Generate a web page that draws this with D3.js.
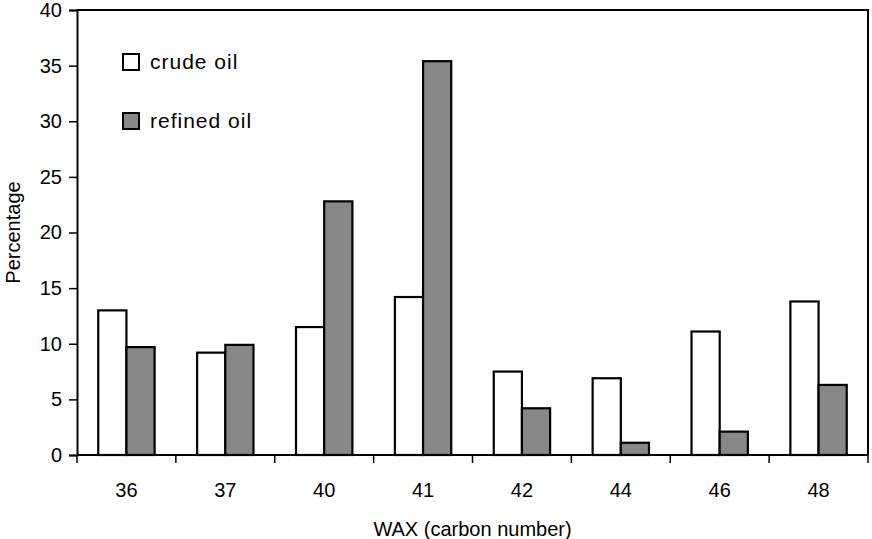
<!DOCTYPE html>
<html>
<head>
<meta charset="utf-8">
<script src="https://cdn.jsdelivr.net/npm/d3@7"></script>
<style>
  body { margin: 0; background: #fff; }
  svg { display: block; font-family: "Liberation Sans", Arial, sans-serif; }
</style>
</head>
<body>
<div id="chart"></div>
<script>
// Wax carbon number distribution, crude vs refined oil
const categories = ["36", "37", "40", "41", "42", "44", "46", "48"];
const seriesNames = ["crude oil", "refined oil"];
const crudeValues = [13.0, 9.2, 11.5, 14.2, 7.5, 6.9, 11.1, 13.8];
const refinedValues = [9.7, 9.9, 22.8, 35.4, 4.2, 1.1, 2.1, 6.3];
const yTicks = [0, 5, 10, 15, 20, 25, 30, 35, 40];

const width = 872, height = 539;
const margin = { top: 10, right: 4, bottom: 84, left: 77 };
const innerW = width - margin.left - margin.right;
const innerH = height - margin.top - margin.bottom;

const colors = { "crude oil": "#ffffff", "refined oil": "#878787" };

const svg = d3.select('#chart')
  .append('svg')
  .attr('width', width)
  .attr('height', height);

const g = svg.append('g')
  .attr('transform', `translate(${margin.left},${margin.top})`);

const x0 = d3.scaleBand()
  .domain(categories)
  .range([0, innerW])
  .paddingInner(0.43)
  .paddingOuter(0.215);

const x1 = d3.scaleBand()
  .domain(seriesNames)
  .range([0, x0.bandwidth()]);

const y = d3.scaleLinear()
  .domain([0, 40])
  .range([innerH, 0]);

// Bars
const rows = categories.map((c, i) => ({
  cat: c,
  values: [
    { name: "crude oil", value: crudeValues[i] },
    { name: "refined oil", value: refinedValues[i] }
  ]
}));

g.selectAll('.group')
  .data(rows)
  .enter().append('g')
  .attr('class', 'group')
  .attr('transform', d => `translate(${x0(d.cat)},0)`)
  .selectAll('rect')
  .data(d => d.values)
  .enter().append('rect')
  .attr('x', d => x1(d.name))
  .attr('y', d => y(d.value))
  .attr('width', x1.bandwidth())
  .attr('height', d => innerH - y(d.value))
  .attr('fill', d => colors[d.name])
  .attr('stroke', '#000')
  .attr('stroke-width', 2.2);

// Plot frame (top and right)
g.append('path')
  .attr('d', `M0,0H${innerW}V${innerH}`)
  .attr('fill', 'none')
  .attr('stroke', '#000')
  .attr('stroke-width', 2);

// Y axis
const yAxis = g.append('g')
  .call(d3.axisLeft(y).tickValues(yTicks).tickSize(8).tickPadding(7));
yAxis.select('.domain').attr('stroke-width', 2);
yAxis.selectAll('.tick line').attr('stroke-width', 1.5);
yAxis.selectAll('text')
  .style('font-size', '20px')
  .attr('fill', '#000');

// X axis: ticks at the category boundaries
const step = x0.step();
const boundaries = d3.range(categories.length + 1).map(i => i * step);
const xAxis = g.append('g')
  .attr('transform', `translate(0,${innerH})`);
xAxis.append('line')
  .attr('x1', 0).attr('x2', innerW)
  .attr('stroke', '#000')
  .attr('stroke-width', 2);
xAxis.selectAll('.btick')
  .data(boundaries)
  .enter().append('line')
  .attr('class', 'btick')
  .attr('x1', d => d).attr('x2', d => d)
  .attr('y1', 0).attr('y2', 8)
  .attr('stroke', '#000')
  .attr('stroke-width', 1.5);
xAxis.selectAll('.xlabel')
  .data(categories)
  .enter().append('text')
  .attr('class', 'xlabel')
  .attr('x', d => x0(d) + x0.bandwidth() / 2)
  .attr('y', 42)
  .attr('text-anchor', 'middle')
  .style('font-size', '20px')
  .text(d => d);

// Axis titles
svg.append('text')
  .attr('x', margin.left + innerW / 2)
  .attr('y', 536)
  .attr('text-anchor', 'middle')
  .style('font-size', '20px')
  .text('WAX (carbon number)');

svg.append('text')
  .attr('transform', `translate(20,${margin.top + innerH / 2}) rotate(-90)`)
  .attr('text-anchor', 'middle')
  .style('font-size', '20px')
  .text('Percentage');

// Legend
const legend = svg.append('g')
  .selectAll('g')
  .data(seriesNames)
  .enter().append('g')
  .attr('transform', (d, i) => `translate(123,${54 + i * 59})`);
legend.append('rect')
  .attr('width', 16)
  .attr('height', 16)
  .attr('fill', d => colors[d])
  .attr('stroke', '#000')
  .attr('stroke-width', 2);
legend.append('text')
  .attr('x', 27)
  .attr('y', 15)
  .style('font-size', '21px')
  .style('letter-spacing', '1px')
  .text(d => d);
</script>
</body>
</html>
